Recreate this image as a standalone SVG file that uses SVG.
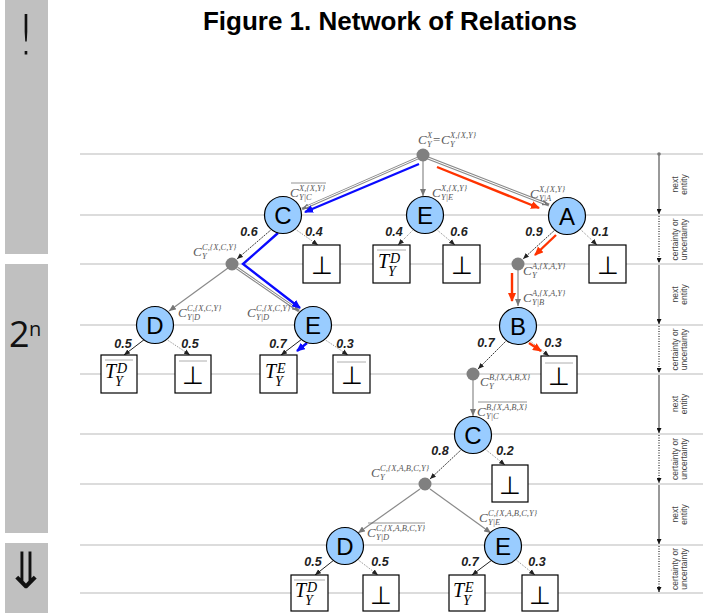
<svg xmlns="http://www.w3.org/2000/svg" width="703" height="613" viewBox="0 0 703 613">
<style>
.grid{stroke:#d0d0d0;stroke-width:1.5}
.g1{stroke:#8a8a8a;stroke-width:1.2;fill:none}
.dbl{stroke:#8a8a8a;stroke-width:3;fill:none}
.dblw{stroke:#fff;stroke-width:1;fill:none}
.pd{stroke:#222;stroke-width:0.9;stroke-dasharray:2,1;fill:none}
.ps{stroke:#222;stroke-width:1;fill:none}
.pu{stroke:#666;stroke-width:0.8;stroke-dasharray:1,1.2;fill:none}
.blue{stroke:#0a0aff;stroke-width:2.4;fill:none}
.red{stroke:#ff3300;stroke-width:2.4;fill:none}
.node{fill:#99ccff;stroke:#000;stroke-width:1.2}
.lt{font-family:"Liberation Sans",Arial,sans-serif;font-size:24px;text-anchor:middle;fill:#000}
.box{fill:#fff;stroke:#000;stroke-width:1.2}
.bot{font-family:"DejaVu Sans",sans-serif;font-weight:200;font-size:25px;text-anchor:middle;fill:#000}
.pr{font-family:"Liberation Sans",Arial,sans-serif;font-size:12.5px;font-style:italic;font-weight:bold;text-anchor:middle;fill:#222}
.m{font-family:"Liberation Serif","Times New Roman",serif;font-style:italic;font-size:13px;fill:#5a5a5a}
.s{font-size:8.5px}
.up{font-style:normal}
.ov{stroke:#666;stroke-width:0.7}
.ovb{stroke:#999;stroke-width:0.8}
.T{font-family:"Liberation Serif","Times New Roman",serif;font-style:italic;font-size:20px;fill:#000}
.Ts{font-size:14px}
.dot{fill:#808080}
.ax{stroke:#777;stroke-width:1.5}
.axd{stroke:#000;stroke-width:1;stroke-dasharray:1,1.5}
.al{font-family:"Liberation Sans",Arial,sans-serif;font-size:8.5px;fill:#444;text-anchor:middle}
.bar{fill:#c0c0c0}
.side{font-family:"DejaVu Sans",sans-serif;font-weight:200;fill:#111;text-anchor:middle}
</style>
<defs>
<marker id="ad" markerWidth="6" markerHeight="6" refX="6" refY="3" orient="auto" markerUnits="userSpaceOnUse"><path d="M0,0.5 L6,3 L0,5.5 z" fill="#222"/></marker>
<marker id="ag" markerWidth="7" markerHeight="6" refX="7" refY="3" orient="auto" markerUnits="userSpaceOnUse"><path d="M0,0 L7,3 L0,6 z" fill="#777"/></marker>
<marker id="ab" markerWidth="9" markerHeight="8" refX="8" refY="4" orient="auto" markerUnits="userSpaceOnUse"><path d="M0,0 L9,4 L0,8 z" fill="#0a0aff"/></marker>
<marker id="ar" markerWidth="9" markerHeight="8" refX="8" refY="4" orient="auto" markerUnits="userSpaceOnUse"><path d="M0,0 L9,4 L0,8 z" fill="#ff3300"/></marker>
<marker id="aa" markerWidth="5" markerHeight="5" refX="5" refY="2.5" orient="auto" markerUnits="userSpaceOnUse"><path d="M0,0 L5,2.5 L0,5 z" fill="#111"/></marker>
</defs>

<rect width="703" height="613" fill="#fff"/>

<g id="sidebar">
<rect class="bar" x="5" y="0" width="43" height="254"/>
<rect class="bar" x="5" y="264" width="43" height="269"/>
<rect class="bar" x="5" y="543" width="43" height="70"/>
<text class="side" x="26" y="54" font-size="56">!</text>
<text x="9" y="347" font-family="Open Sans,sans-serif" font-size="36" fill="#111">2</text>
<text x="29" y="336" font-family="Open Sans,sans-serif" font-size="20" fill="#111">n</text>
<text class="side" x="26" y="588" font-size="50">⇓</text>
</g>

<text id="title" x="390" y="30" font-family="Liberation Sans,Arial,sans-serif" font-size="26" font-weight="bold" text-anchor="middle" fill="#000">Figure 1. Network of Relations</text>

<g id="grid">
<line class="grid" x1="80" y1="154" x2="703" y2="154"/>
<line class="grid" x1="80" y1="215" x2="703" y2="215"/>
<line class="grid" x1="80" y1="264" x2="703" y2="264"/>
<line class="grid" x1="80" y1="325" x2="703" y2="325"/>
<line class="grid" x1="80" y1="374" x2="703" y2="374"/>
<line class="grid" x1="80" y1="434" x2="703" y2="434"/>
<line class="grid" x1="80" y1="484" x2="703" y2="484"/>
<line class="grid" x1="80" y1="545" x2="703" y2="545"/>
<line class="grid" x1="80" y1="593" x2="703" y2="593"/>
</g>

<g id="axis">
<circle cx="659" cy="154" r="1.8" fill="#777"/>
<line class="ax" x1="659" y1="154" x2="659" y2="214" marker-end="url(#aa)"/>
<line class="axd" x1="659" y1="216" x2="659" y2="263" marker-end="url(#aa)"/>
<line class="ax" x1="659" y1="265" x2="659" y2="324" marker-end="url(#aa)"/>
<line class="axd" x1="659" y1="326" x2="659" y2="373" marker-end="url(#aa)"/>
<line class="ax" x1="659" y1="375" x2="659" y2="433" marker-end="url(#aa)"/>
<line class="axd" x1="659" y1="435" x2="659" y2="483" marker-end="url(#aa)"/>
<line class="ax" x1="659" y1="485" x2="659" y2="544" marker-end="url(#aa)"/>
<line class="axd" x1="659" y1="546" x2="659" y2="592" marker-end="url(#aa)"/>
<text class="al" transform="translate(678,184.5) rotate(-90)">next</text>
<text class="al" transform="translate(687,184.5) rotate(-90)">entity</text>
<text class="al" transform="translate(678,239.5) rotate(-90)">certainty or</text>
<text class="al" transform="translate(687,239.5) rotate(-90)">uncertainty</text>
<text class="al" transform="translate(678,294.5) rotate(-90)">next</text>
<text class="al" transform="translate(687,294.5) rotate(-90)">entity</text>
<text class="al" transform="translate(678,349.5) rotate(-90)">certainty or</text>
<text class="al" transform="translate(687,349.5) rotate(-90)">uncertainty</text>
<text class="al" transform="translate(678,404) rotate(-90)">next</text>
<text class="al" transform="translate(687,404) rotate(-90)">entity</text>
<text class="al" transform="translate(678,459) rotate(-90)">certainty or</text>
<text class="al" transform="translate(687,459) rotate(-90)">uncertainty</text>
<text class="al" transform="translate(678,514.5) rotate(-90)">next</text>
<text class="al" transform="translate(687,514.5) rotate(-90)">entity</text>
<text class="al" transform="translate(678,569) rotate(-90)">certainty or</text>
<text class="al" transform="translate(687,569) rotate(-90)">uncertainty</text>
</g>

<g id="connectors">
<path class="dbl" d="M418,158 L302,209" marker-end="url(#ag)"/>
<path class="dblw" d="M418,158 L306,207"/>
<path class="g1" d="M423,161 L423,196" marker-end="url(#ag)"/>
<path class="dbl" d="M428,158 L549,205" marker-end="url(#ag)"/>
<path class="dblw" d="M428,158 L545,203.5"/>
<path class="g1" d="M228,268 L169,311" marker-end="url(#ag)"/>
<path class="dbl" d="M237,268 L299,311" marker-end="url(#ag)"/>
<path class="dblw" d="M237,268 L295,308"/>
<path class="g1" d="M518,270 L518,306" marker-end="url(#ag)"/>
<path class="g1" d="M473,380 L473,416" marker-end="url(#ag)"/>
<path class="g1" d="M420,489 L358,533" marker-end="url(#ag)"/>
<path class="g1" d="M430,489 L491,533" marker-end="url(#ag)"/>
<path class="pd" d="M272,229 L237,259" marker-end="url(#ad)"/>
<path class="pu" d="M295,229 L318,245" marker-end="url(#ad)"/>
<path class="pu" d="M414,229 L398,245" marker-end="url(#ad)"/>
<path class="pu" d="M436,229 L455,245" marker-end="url(#ad)"/>
<path class="pd" d="M556,229 L523,259" marker-end="url(#ad)"/>
<path class="pu" d="M579,228 L597,245" marker-end="url(#ad)"/>
<path class="ps" d="M145,339 L124,355" marker-end="url(#ad)"/>
<path class="pu" d="M166,339 L190,355" marker-end="url(#ad)"/>
<path class="ps" d="M302,339 L281,355" marker-end="url(#ad)"/>
<path class="pu" d="M324,339 L348,355" marker-end="url(#ad)"/>
<path class="pd" d="M507,340 L478,369" marker-end="url(#ad)"/>
<path class="pu" d="M529,340 L549,356" marker-end="url(#ad)"/>
<path class="pd" d="M462,449 L430,479" marker-end="url(#ad)"/>
<path class="pu" d="M485,449 L505,465" marker-end="url(#ad)"/>
<path class="ps" d="M334,560 L315,575" marker-end="url(#ad)"/>
<path class="pu" d="M357,559 L378,575" marker-end="url(#ad)"/>
<path class="ps" d="M492,560 L472,575" marker-end="url(#ad)"/>
<path class="pu" d="M515,559 L535,575" marker-end="url(#ad)"/>
<path class="blue" d="M419,164 L305,212" marker-end="url(#ab)"/>
<path class="blue" d="M278,233 L243,264 L300,308" marker-end="url(#ab)"/>
<path class="blue" d="M307,343 L297,351" marker-end="url(#ab)"/>
<path class="red" d="M437,167 L539,208" marker-end="url(#ar)"/>
<path class="red" d="M556,235 L535,255" marker-end="url(#ar)"/>
<path class="red" d="M512,273 L512,301" marker-end="url(#ar)"/>
<path class="red" d="M529,343 L541,351" marker-end="url(#ar)"/>
</g>

<g id="dots">
<circle id="root" class="dot" cx="423" cy="155" r="6.5"/>
<circle id="dotC" class="dot" cx="232" cy="264" r="6.5"/>
<circle id="dotA" class="dot" cx="518" cy="264" r="6.5"/>
<circle id="dotB" class="dot" cx="473" cy="374" r="6.5"/>
<circle id="dotC3" class="dot" cx="425" cy="484" r="6.5"/>
</g>

<g id="nodeC1"><circle class="node" cx="283" cy="215" r="18.5"/><text class="lt" x="283" y="223.5">C</text></g>
<g id="nodeE1"><circle class="node" cx="425" cy="215" r="18.5"/><text class="lt" x="425" y="223.5">E</text></g>
<g id="nodeA"><circle class="node" cx="567" cy="216" r="18.5"/><text class="lt" x="567" y="224.5">A</text></g>
<g id="nodeD2"><circle class="node" cx="155" cy="325" r="18.5"/><text class="lt" x="155" y="333.5">D</text></g>
<g id="nodeE2"><circle class="node" cx="313" cy="325" r="18.5"/><text class="lt" x="313" y="333.5">E</text></g>
<g id="nodeB"><circle class="node" cx="518" cy="326" r="18.5"/><text class="lt" x="518" y="334.5">B</text></g>
<g id="nodeC3"><circle class="node" cx="473" cy="435" r="18.5"/><text class="lt" x="473" y="443.5">C</text></g>
<g id="nodeD4"><circle class="node" cx="345" cy="546" r="18.5"/><text class="lt" x="345" y="554.5">D</text></g>
<g id="nodeE4"><circle class="node" cx="503" cy="546" r="18.5"/><text class="lt" x="503" y="554.5">E</text></g>

<g id="boxC1bot"><rect class="box" x="303" y="245" width="37" height="38"/><text class="bot" x="321.5" y="274">⊥</text></g>
<g id="boxE1T"><rect class="box" x="373" y="245" width="37" height="38"/><line class="ovb" x1="377" y1="250" x2="406" y2="250"/><text class="T"><tspan x="378" y="268">T</tspan><tspan class="Ts" x="390" y="263">D</tspan><tspan class="Ts" x="388" y="276">Y</tspan></text></g>
<g id="boxE1bot"><rect class="box" x="443" y="245" width="37" height="38"/><text class="bot" x="461.5" y="274">⊥</text></g>
<g id="boxAbot"><rect class="box" x="589" y="245" width="37" height="38"/><text class="bot" x="607.5" y="274">⊥</text></g>

<g id="boxD2T"><rect class="box" x="101" y="355" width="36" height="38"/><line class="ovb" x1="105" y1="360" x2="133" y2="360"/><text class="T"><tspan x="105" y="378">T</tspan><tspan class="Ts" x="117" y="373">D</tspan><tspan class="Ts" x="115" y="386">Y</tspan></text></g>
<g id="boxD2bot"><rect class="box" x="175" y="355" width="36" height="38"/><line class="ovb" x1="179" y1="361" x2="207" y2="361"/><text class="bot" x="193" y="384">⊥</text></g>
<g id="boxE2T"><rect class="box" x="260" y="355" width="37" height="38"/><text class="T"><tspan x="265" y="378">T</tspan><tspan class="Ts" x="277" y="373">E</tspan><tspan class="Ts" x="275" y="386">Y</tspan></text></g>
<g id="boxE2bot"><rect class="box" x="333" y="355" width="37" height="38"/><line class="ovb" x1="337" y1="362" x2="366" y2="362"/><text class="bot" x="351.5" y="384">⊥</text></g>
<g id="boxBbot"><rect class="box" x="541" y="356" width="36" height="37"/><line class="ovb" x1="545" y1="363" x2="573" y2="363"/><text class="bot" x="559" y="385">⊥</text></g>

<g id="boxC3bot"><rect class="box" x="492" y="465" width="36" height="37"/><text class="bot" x="510" y="494">⊥</text></g>

<g id="boxD4T"><rect class="box" x="291" y="575" width="37" height="36"/><line class="ovb" x1="294" y1="580" x2="325" y2="580"/><text class="T"><tspan x="295" y="597">T</tspan><tspan class="Ts" x="307" y="592">D</tspan><tspan class="Ts" x="305" y="605">Y</tspan></text></g>
<g id="boxD4bot"><rect class="box" x="363" y="575" width="36" height="36"/><text class="bot" x="381" y="604">⊥</text></g>
<g id="boxE4T"><rect class="box" x="449" y="575" width="36" height="36"/><text class="T"><tspan x="453" y="597">T</tspan><tspan class="Ts" x="465" y="592">E</tspan><tspan class="Ts" x="463" y="605">Y</tspan></text></g>
<g id="boxE4bot"><rect class="box" x="522" y="575" width="36" height="36"/><text class="bot" x="540" y="604">⊥</text></g>

<g id="probabilities">
<text class="pr" x="249" y="236">0.6</text>
<text class="pr" x="314" y="236">0.4</text>
<text class="pr" x="394" y="236">0.4</text>
<text class="pr" x="459" y="236">0.6</text>
<text class="pr" x="534" y="236">0.9</text>
<text class="pr" x="600" y="236">0.1</text>
<text class="pr" x="123" y="348">0.5</text>
<text class="pr" x="190" y="348">0.5</text>
<text class="pr" x="278" y="348">0.7</text>
<text class="pr" x="345" y="348">0.3</text>
<text class="pr" x="486" y="347">0.7</text>
<text class="pr" x="553" y="347">0.3</text>
<text class="pr" x="440" y="455">0.8</text>
<text class="pr" x="505" y="455">0.2</text>
<text class="pr" x="313" y="566">0.5</text>
<text class="pr" x="380" y="566">0.5</text>
<text class="pr" x="470" y="566">0.7</text>
<text class="pr" x="537" y="566">0.3</text>
</g>

<g id="labels">
<text class="m"><tspan x="418" y="144">C</tspan><tspan class="s" x="427" y="138">X</tspan><tspan class="s" x="427" y="147">Y</tspan><tspan class="up" x="433" y="144">=</tspan><tspan x="441" y="144">C</tspan><tspan class="s" x="450" y="138">X,{X,Y}</tspan><tspan class="s" x="450" y="147">Y</tspan></text>

<line class="ov" x1="291" y1="183" x2="326" y2="183"/>
<text class="m"><tspan x="290" y="197">C</tspan><tspan class="s" x="299" y="191">X,{X,Y}</tspan><tspan class="s" x="299" y="200">Y|C</tspan></text>
<text class="m"><tspan x="432" y="197">C</tspan><tspan class="s" x="441" y="191">X,{X,Y}</tspan><tspan class="s" x="441" y="200">Y|E</tspan></text>
<text class="m"><tspan x="530" y="198">C</tspan><tspan class="s" x="539" y="192">X,{X,Y}</tspan><tspan class="s" x="539" y="201">Y|A</tspan></text>

<text class="m"><tspan x="193" y="256">C</tspan><tspan class="s" x="202" y="250">C,{X,C,Y}</tspan><tspan class="s" x="202" y="259">Y</tspan></text>
<text class="m"><tspan x="523" y="275">C</tspan><tspan class="s" x="532" y="269">A,{X,A,Y}</tspan><tspan class="s" x="532" y="278">Y</tspan></text>
<text class="m"><tspan x="523" y="302">C</tspan><tspan class="s" x="532" y="296">A,{X,A,Y}</tspan><tspan class="s" x="532" y="305">Y|B</tspan></text>
<text class="m"><tspan x="178" y="317">C</tspan><tspan class="s" x="187" y="311">C,{X,C,Y}</tspan><tspan class="s" x="187" y="320">Y|D</tspan></text>
<text class="m"><tspan x="247" y="317">C</tspan><tspan class="s" x="256" y="311">C,{X,C,Y}</tspan><tspan class="s" x="256" y="320">Y|D</tspan></text>

<text class="m"><tspan x="480" y="386">C</tspan><tspan class="s" x="489" y="380">B,{X,A,B,X}</tspan><tspan class="s" x="489" y="389">Y</tspan></text>
<line class="ov" x1="478" y1="402" x2="527" y2="402"/>
<text class="m"><tspan x="477" y="416">C</tspan><tspan class="s" x="486" y="410">B,{X,A,B,X}</tspan><tspan class="s" x="486" y="419">Y|C</tspan></text>

<text class="m"><tspan x="371" y="477">C</tspan><tspan class="s" x="380" y="471">C,{X,A,B,C,Y}</tspan><tspan class="s" x="380" y="480">Y</tspan></text>
<line class="ov" x1="368" y1="523" x2="425" y2="523"/>
<text class="m"><tspan x="367" y="537">C</tspan><tspan class="s" x="376" y="531">C,{X,A,B,C,Y}</tspan><tspan class="s" x="376" y="540">Y|D</tspan></text>
<text class="m"><tspan x="479" y="522">C</tspan><tspan class="s" x="488" y="516">C,{X,A,B,C,Y}</tspan><tspan class="s" x="488" y="525">Y|E</tspan></text>
</g>
</svg>
